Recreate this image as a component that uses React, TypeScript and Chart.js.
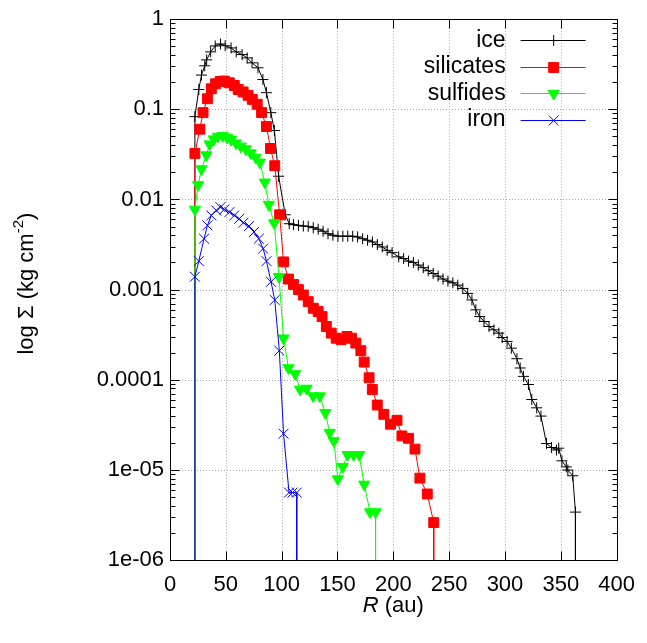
import React, { useEffect, useRef } from 'react';
import { Chart, registerables } from 'chart.js';
import { drawPoint } from 'chart.js/helpers';

Chart.register(...registerables);

const FONT = '"Liberation Sans", Arial, Helvetica, sans-serif';
const BELOW = 1e-12; // profile drops below the plotted range

const iceR = [22.3, 22.3, 25.8, 28.2, 31.1, 32.8, 36.4, 40.5, 45.2, 49.4, 54.7, 59.3, 64.6, 69.1, 73.5, 78.8, 83.2, 86.4, 90.3, 93.5, 97.3, 103.2, 106.8, 110.6, 115.0, 119.4, 123.8, 128.3, 132.7, 137.1, 141.5, 145.9, 150.4, 154.8, 159.2, 163.6, 168.0, 172.5, 176.9, 181.3, 185.7, 190.1, 194.5, 198.9, 204.8, 209.2, 213.6, 218.0, 222.4, 226.8, 231.3, 235.7, 240.1, 244.5, 248.9, 253.3, 257.7, 262.2, 266.6, 270.4, 273.9, 277.4, 281.2, 285.7, 290.1, 294.5, 297.5, 301.9, 305.7, 310.7, 313.6, 316.6, 321.0, 324.0, 328.4, 332.2, 337.2, 341.6, 346.1, 348.1, 351.0, 354.9, 356.3, 360.7, 363.1, 363.1];
const iceSigma = [BELOW, 0.083, 0.166, 0.240, 0.304, 0.354, 0.434, 0.505, 0.531, 0.508, 0.480, 0.434, 0.405, 0.372, 0.328, 0.289, 0.214, 0.153, 0.0918, 0.0582, 0.0181, 0.00676, 0.00538, 0.00525, 0.00516, 0.00507, 0.00503, 0.00486, 0.00467, 0.00444, 0.00417, 0.00401, 0.00391, 0.00391, 0.00391, 0.00391, 0.00384, 0.00367, 0.00353, 0.00338, 0.00316, 0.00297, 0.00273, 0.00257, 0.00231, 0.00221, 0.00207, 0.00200, 0.00187, 0.00175, 0.00162, 0.00151, 0.00141, 0.00131, 0.00124, 0.00119, 0.00112, 0.00103, 0.000908, 0.000767, 0.000596, 0.000502, 0.000443, 0.000390, 0.000358, 0.000329, 0.000294, 0.000266, 0.000224, 0.000171, 0.000135, 0.000109, 0.0000885, 0.0000604, 0.0000488, 0.0000395, 0.0000196, 0.0000177, 0.0000166, 0.0000174, 0.0000126, 0.0000108, 0.00000995, 0.0000086, 0.0000034, BELOW];

const silR = [22.3, 22.3, 26.7, 29.6, 33.5, 37.0, 40.8, 44.9, 48.7, 53.1, 57.6, 61.1, 65.5, 69.9, 73.7, 78.1, 82.0, 86.4, 90.0, 93.8, 98.2, 101.7, 106.1, 110.6, 115.0, 119.4, 123.8, 128.3, 132.7, 136.2, 140.0, 144.4, 148.8, 153.2, 158.5, 162.6, 166.4, 170.9, 173.9, 178.3, 181.2, 185.6, 191.5, 197.4, 203.3, 207.7, 213.6, 219.4, 223.8, 230.4, 236.2, 236.2];
const silSigma = [BELOW, 0.0324, 0.0602, 0.0920, 0.131, 0.169, 0.192, 0.204, 0.206, 0.197, 0.184, 0.166, 0.156, 0.143, 0.129, 0.114, 0.0920, 0.0644, 0.0368, 0.0237, 0.00676, 0.00203, 0.00131, 0.00114, 0.00100, 0.000871, 0.000735, 0.000621, 0.000570, 0.000502, 0.000390, 0.000329, 0.000289, 0.000278, 0.000302, 0.000289, 0.000255, 0.000210, 0.000157, 0.000105, 0.0000780, 0.0000524, 0.0000413, 0.0000321, 0.0000355, 0.0000238, 0.0000224, 0.0000170, 0.0000081, 0.0000054, 0.0000026, BELOW];

const sulR = [22.3, 22.3, 25.2, 28.2, 32.6, 35.5, 39.3, 42.8, 47.2, 51.1, 54.7, 59.1, 63.5, 67.9, 72.3, 76.7, 80.5, 84.9, 88.5, 93.3, 97.6, 101.7, 106.1, 112.1, 116.5, 122.3, 128.2, 134.1, 139.1, 143.0, 146.8, 150.3, 154.7, 159.1, 164.4, 169.4, 173.9, 179.2, 184.1, 184.1];
const sulSigma = [BELOW, 0.00776, 0.0145, 0.0218, 0.0311, 0.0411, 0.0467, 0.0500, 0.0508, 0.0487, 0.0460, 0.0421, 0.0388, 0.0362, 0.0327, 0.0293, 0.0258, 0.0155, 0.00877, 0.00547, 0.00139, 0.000289, 0.000135, 0.000116, 0.0000780, 0.0000800, 0.0000658, 0.0000658, 0.0000430, 0.0000259, 0.0000209, 0.0000079, 0.0000108, 0.0000147, 0.0000147, 0.0000147, 0.0000069, 0.0000034, 0.0000034, BELOW];

const feR = [22.3, 22.3, 25.8, 30.5, 33.5, 37.0, 41.4, 45.2, 48.7, 53.2, 57.6, 62.0, 65.8, 70.8, 75.2, 79.6, 83.4, 86.4, 90.5, 93.8, 97.9, 101.7, 106.6, 109.7, 113.5, 113.5];
const feSigma = [BELOW, 0.00139, 0.00207, 0.00367, 0.00516, 0.00665, 0.00756, 0.00822, 0.00776, 0.00724, 0.00665, 0.00611, 0.00552, 0.00507, 0.00435, 0.00367, 0.00285, 0.00207, 0.00122, 0.000767, 0.000210, 0.0000252, 0.0000056, 0.0000056, 0.0000056, BELOW];

const xTicks = [0, 50, 100, 150, 200, 250, 300, 350, 400];
const yTickValues = [1e-6, 1e-5, 1e-4, 1e-3, 1e-2, 1e-1, 1];
const yTickLabels = ['1e-06', '1e-05', '0.0001', '0.001', '0.01', '0.1', '1'];

const series = [
  { label: 'ice', r: iceR, v: iceSigma, color: '#000000', pointStyle: 'cross', radius: 5.5, rotation: 0 },
  { label: 'silicates', r: silR, v: silSigma, color: '#ff0000', pointStyle: 'rect', radius: 7, rotation: 0 },
  { label: 'sulfides', r: sulR, v: sulSigma, color: '#00ff00', pointStyle: 'triangle', radius: 6.5, rotation: 180 },
  { label: 'iron', r: feR, v: feSigma, color: '#0000ff', pointStyle: 'crossRot', radius: 7, rotation: 0 },
];

const FS = 22;
const LFS = 23;

const gnuplotPlugin = {
  id: 'gnuplotLook',
  beforeDatasetsDraw(chart: any) {
    const { ctx, chartArea: a } = chart;
    const xs = chart.scales.x;
    const ys = chart.scales.y;
    ctx.save();
    ctx.strokeStyle = '#a8a8a8';
    ctx.lineWidth = 1;
    ctx.setLineDash([1, 2]);
    ctx.beginPath();
    xTicks.forEach((v) => {
      if (v <= xs.min || v >= xs.max) return;
      const px = Math.round(xs.getPixelForValue(v)) + 0.5;
      ctx.moveTo(px, a.top);
      ctx.lineTo(px, a.bottom);
    });
    yTickValues.forEach((v) => {
      if (v <= ys.min * 1.0001 || v >= ys.max * 0.9999) return;
      const py = Math.round(ys.getPixelForValue(v)) + 0.5;
      ctx.moveTo(a.left, py);
      ctx.lineTo(a.right, py);
    });
    ctx.stroke();
    ctx.restore();
  },
  afterDatasetsDraw(chart: any) {
    const { ctx, chartArea: a } = chart;
    const xs = chart.scales.x;
    const ys = chart.scales.y;
    const L = Math.round(a.left) + 0.5;
    const R = Math.round(a.right) + 0.5;
    const T = Math.round(a.top) + 0.5;
    const B = Math.round(a.bottom) + 0.5;
    ctx.save();
    ctx.setLineDash([]);
    ctx.strokeStyle = '#000';
    ctx.lineWidth = 1;
    ctx.beginPath();
    yTickValues.forEach((dec, i) => {
      for (let k = 1; k <= 9; k++) {
        if (i === yTickValues.length - 1 && k > 1) break;
        const v = dec * k;
        const py = Math.round(ys.getPixelForValue(v)) + 0.5;
        const len = k === 1 ? 9 : 5;
        ctx.moveTo(L, py); ctx.lineTo(L + len, py);
        ctx.moveTo(R, py); ctx.lineTo(R - len, py);
      }
    });
    xTicks.forEach((v) => {
      const px = Math.round(xs.getPixelForValue(v)) + 0.5;
      ctx.moveTo(px, B); ctx.lineTo(px, B - 9);
      ctx.moveTo(px, T); ctx.lineTo(px, T + 9);
    });
    ctx.stroke();
    ctx.strokeRect(L, T, R - L, B - T);

    // legend
    ctx.font = `${LFS}px ${FONT}`;
    ctx.textAlign = 'right';
    ctx.textBaseline = 'middle';
    series.forEach((s, i) => {
      const y = a.top + 21 + i * 26.6;
      ctx.fillStyle = '#000';
      ctx.fillText(s.label, a.right - 111, y);
      ctx.strokeStyle = s.color;
      ctx.fillStyle = s.color;
      ctx.lineWidth = 1;
      ctx.beginPath();
      ctx.moveTo(a.right - 96, Math.round(y) + 0.5);
      ctx.lineTo(a.right - 31, Math.round(y) + 0.5);
      ctx.stroke();
      drawPoint(ctx, { pointStyle: s.pointStyle, radius: s.radius, rotation: s.rotation, borderWidth: 1 } as any, a.right - 63, Math.round(y) + 0.5);
    });

    // y title
    ctx.fillStyle = '#000';
    ctx.save();
    ctx.translate(27, (a.top + a.bottom) / 2 - 6);
    ctx.rotate(-Math.PI / 2);
    ctx.textAlign = 'left';
    ctx.textBaseline = 'middle';
    const p1 = 'log \u03A3 (kg cm';
    const p2 = '-2';
    const p3 = ')';
    ctx.font = `${FS}px ${FONT}`;
    const w1 = ctx.measureText(p1).width;
    const w3 = ctx.measureText(p3).width;
    ctx.font = `${Math.round(FS * 0.7)}px ${FONT}`;
    const w2 = ctx.measureText(p2).width;
    let x0 = -(w1 + w2 + w3) / 2;
    ctx.font = `${FS}px ${FONT}`;
    ctx.fillText(p1, x0, 0);
    x0 += w1;
    ctx.font = `${Math.round(FS * 0.7)}px ${FONT}`;
    ctx.fillText(p2, x0, -FS * 0.35);
    x0 += w2;
    ctx.font = `${FS}px ${FONT}`;
    ctx.fillText(p3, x0, 0);
    ctx.restore();

    // x title
    ctx.textBaseline = 'middle';
    ctx.textAlign = 'left';
    ctx.font = `italic ${FS}px ${FONT}`;
    const r1 = 'R';
    const wr = ctx.measureText(r1).width;
    ctx.font = `${FS}px ${FONT}`;
    const r2 = ' (au)';
    const wr2 = ctx.measureText(r2).width;
    let xx = (a.left + a.right) / 2 - (wr + wr2) / 2;
    ctx.font = `italic ${FS}px ${FONT}`;
    ctx.fillText(r1, xx, 606);
    xx += wr;
    ctx.font = `${FS}px ${FONT}`;
    ctx.fillText(r2, xx, 606);
    ctx.restore();
  },
};

export default function App() {
  const ref = useRef<HTMLCanvasElement | null>(null);
  useEffect(() => {
    if (!ref.current) return;
    const datasets = series.map((s, idx) => {
      const n = Math.min(s.r.length, s.v.length);
      const data = [] as { x: number; y: number }[];
      for (let i = 0; i < n; i++) data.push({ x: s.r[i], y: s.v[i] });
      return {
        label: s.label,
        data,
        showLine: true,
        borderColor: s.color,
        backgroundColor: s.color,
        borderWidth: 1,
        pointStyle: s.pointStyle,
        pointRotation: s.rotation,
        pointRadius: (c: any) => (c.raw && c.raw.y <= BELOW ? 0 : s.radius),
        pointHoverRadius: (c: any) => (c.raw && c.raw.y <= BELOW ? 0 : s.radius),
        pointBorderWidth: 1,
        pointBorderColor: s.color,
        pointBackgroundColor: s.color,
        tension: 0,
        fill: false,
        order: series.length - idx,
      };
    });
    const chart = new Chart(ref.current, {
      type: 'scatter',
      data: { datasets },
      options: {
        animation: false,
        responsive: false,
        devicePixelRatio: 1,
        events: [],
        layout: { padding: { left: 0, right: 24, top: 16, bottom: 0 } },
        plugins: { legend: { display: false }, tooltip: { enabled: false } },
        scales: {
          x: {
            type: 'linear',
            min: 0,
            max: 400,
            grid: { display: false, drawTicks: false },
            border: { display: false },
            afterBuildTicks: (scale: any) => {
              scale.ticks = xTicks.map((v) => ({ value: v }));
            },
            afterFit: (scale: any) => {
              scale.height = 83;
            },
            ticks: {
              autoSkip: false,
              maxRotation: 0,
              padding: 12,
              color: '#000',
              font: { family: FONT, size: FS },
              callback: (v: any) => String(v),
            },
          },
          y: {
            type: 'logarithmic',
            min: 1e-6,
            max: 1,
            grid: { display: false, drawTicks: false },
            border: { display: false },
            afterBuildTicks: (scale: any) => {
              scale.ticks = yTickValues.map((v) => ({ value: v }));
            },
            afterFit: (scale: any) => {
              scale.width = 170;
            },
            ticks: {
              autoSkip: false,
              padding: 6,
              color: '#000',
              font: { family: FONT, size: FS },
              callback: (value: any) => {
                const i = yTickValues.findIndex((t) => Math.abs(Math.log10(t) - Math.log10(value)) < 1e-6);
                return i >= 0 ? yTickLabels[i] : '';
              },
            },
          },
        },
      },
      plugins: [gnuplotPlugin],
    } as any);
    return () => chart.destroy();
  }, []);
  return (
    <div style={{ position: 'absolute', left: 0, top: 0, width: 647, height: 643, background: '#fff' }}>
      <canvas ref={ref} width={647} height={643} style={{ display: 'block' }} />
    </div>
  );
}
